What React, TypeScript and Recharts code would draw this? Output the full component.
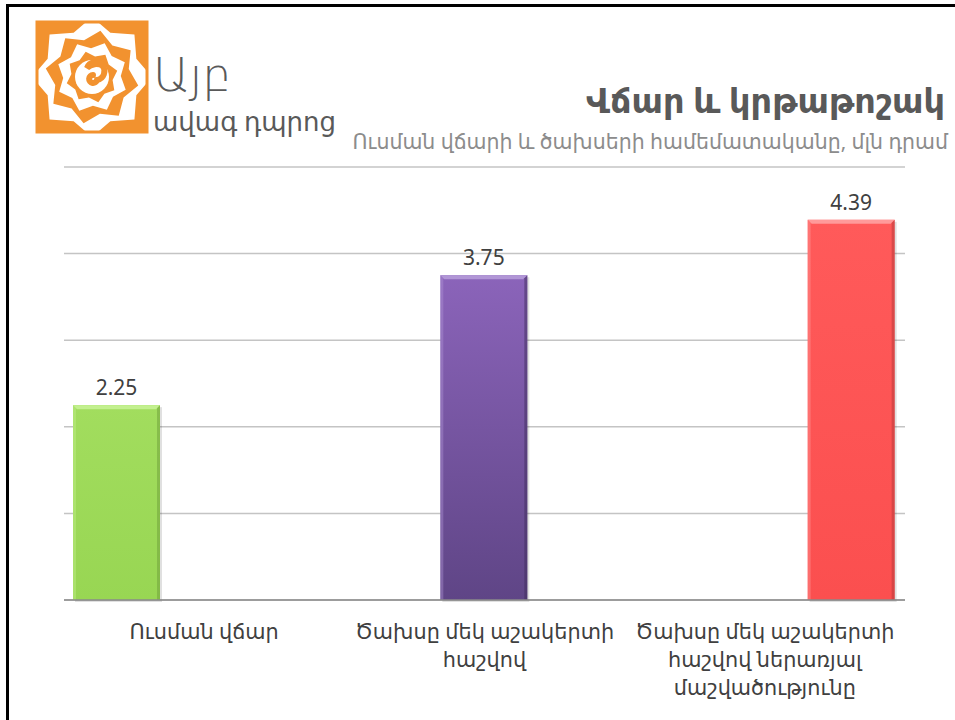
import { BarChart, Bar, XAxis, YAxis, CartesianGrid, LabelList } from 'recharts';

const categoryLines = [
  ['Ուսման վճար'],
  ['Ծախսը մեկ աշակերտի', 'հաշվով'],
  ['Ծախսը մեկ աշակերտի', 'հաշվով ներառյալ', 'մաշվածությունը'],
];
const categories = categoryLines.map((l) => l.join(' '));
const tuition = [2.25, null, null];
const perStudent = [null, 3.75, null];
const perStudentDepr = [null, null, 4.39];
const yTicks = [0, 1, 2, 3, 4, 5];

const data = categories.map((name, i) => ({
  name,
  tuition: tuition[i],
  perStudent: perStudent[i],
  perStudentDepr: perStudentDepr[i],
}));

const FONT = '"Noto Sans", "DejaVu Sans", sans-serif';

function makeBevel(top: string, bottom: string, light: string, dark: string) {
  return (props: any) => {
    const { x, y, width, height } = props;
    if (!height || height <= 0) return <g />;
    const id = 'g' + top.replace('#', '');
    return (
      <g>
        <defs>
          <linearGradient id={id} x1="0" y1="0" x2="0" y2="1">
            <stop offset="0%" stopColor={top} />
            <stop offset="100%" stopColor={bottom} />
          </linearGradient>
        </defs>
        <rect x={x + 2} y={y + 2} width={width} height={height} fill="#000" opacity={0.12} />
        <rect x={x} y={y} width={width} height={height} fill={`url(#${id})`} />
        <polygon points={`${x},${y} ${x + width},${y} ${x + width - 4},${y + 4} ${x + 4},${y + 4}`} fill={light} />
        <polygon points={`${x + width},${y} ${x + width},${y + height} ${x + width - 3},${y + height} ${x + width - 3},${y + 3}`} fill={dark} opacity={0.5} />
        <polygon points={`${x},${y} ${x + 3},${y + 3} ${x + 3},${y + height} ${x},${y + height}`} fill={light} opacity={0.4} />
      </g>
    );
  };
}

const CategoryTick = (props: any) => {
  const { x, y, index } = props;
  const lines = categoryLines[index] || [];
  return (
    <g>
      {lines.map((t, i) => (
        <text key={i} x={x} y={y + 31 + i * 28} textAnchor="middle" fontSize={20.8} fill="#404040" fontFamily={FONT}>
          {t}
        </text>
      ))}
    </g>
  );
};

function starPoints(cx: number, cy: number, r: number, rot: number) {
  const pts: string[] = [];
  const n = 16;
  for (let i = 0; i < n; i++) {
    const rr = i % 2 === 0 ? r : r * 0.8;
    const a = rot + (i * Math.PI * 2) / n;
    pts.push(`${cx + rr * Math.cos(a)},${cy + rr * Math.sin(a)}`);
  }
  return pts.join(' ');
}

const Logo = () => {
  const cx = 92;
  const cy = 77;
  const layers = [60, 47, 36, 26];
  return (
    <svg width={955} height={720} style={{ position: 'absolute', left: 0, top: 0 }}>
      <rect x={37} y={22} width={110} height={110} fill="#f2922f" />
      {layers.map((r, i) => (
        <polygon key={i} points={starPoints(cx, cy, r, i * 0.18)} fill={i % 2 === 0 ? '#fff' : '#f2922f'} />
      ))}
      <circle cx={cx} cy={cy} r={17} fill="#fff" />
      <path
        d={`M ${cx + 1} ${cy - 2} a 4 4 0 1 0 4 5 a 9 9 0 1 0 -10 -12 a 13 13 0 0 1 16 -2`}
        fill="none"
        stroke="#f2922f"
        strokeWidth={6}
        strokeLinecap="round"
      />
      <rect x={37} y={22} width={110} height={110} fill="none" stroke="#f2922f" strokeWidth={3} />
    </svg>
  );
};

const fmt = (v: any) => (v == null ? '' : v);

export default function App() {
  return (
    <div style={{ position: 'absolute', left: 0, top: 0, width: 955, height: 720, background: '#fff', fontFamily: FONT }}>
      <div style={{ position: 'absolute', left: 6, top: 4, width: 960, height: 730, borderLeft: '3px solid #000', borderTop: '3px solid #000' }} />
      <Logo />
      <div style={{ position: 'absolute', left: 153, top: 50, fontSize: 46, color: '#595959', lineHeight: 1, fontWeight: 300 }}>Այբ</div>
      <div style={{ position: 'absolute', left: 153, top: 108, fontSize: 26, color: '#595959', lineHeight: 1 }}>ավագ դպրոց</div>
      <div style={{ position: 'absolute', right: 10, top: 84, fontSize: 33.5, color: '#595959', fontWeight: 700, lineHeight: 1, whiteSpace: 'nowrap' }}>
        Վճար և կրթաթոշակ
      </div>
      <div style={{ position: 'absolute', right: 7, top: 131, fontSize: 20.5, color: '#8c8c8c', lineHeight: 1, whiteSpace: 'nowrap' }}>
        Ուսման վճարի և ծախսերի համեմատականը, մլն դրամ
      </div>
      <div style={{ position: 'absolute', left: 0, top: 0 }}>
        <BarChart
          width={955}
          height={720}
          data={data}
          margin={{ top: 167, right: 50, left: 64, bottom: 0 }}
          barCategoryGap={9}
          barGap={0}
        >
          <CartesianGrid horizontal vertical={false} stroke="#c4c4c4" strokeWidth={1.5} />
          <YAxis hide domain={[0, 5]} ticks={yTicks} />
          <XAxis dataKey="name" height={120} tickLine={false} axisLine={{ stroke: '#8a8a8a', strokeWidth: 1.5 }} tick={<CategoryTick />} interval={0} />
          <Bar dataKey="tuition" isAnimationActive={false} shape={makeBevel('#a2dd5e', '#98d653', '#c3f08f', '#6e9e3a')}>
            <LabelList dataKey="tuition" position="top" offset={10} formatter={fmt} fontSize={21} fill="#404040" fontFamily={FONT} />
          </Bar>
          <Bar dataKey="perStudent" isAnimationActive={false} shape={makeBevel('#8b64ba', '#5f4586', '#b196d6', '#3e2c5a')}>
            <LabelList dataKey="perStudent" position="top" offset={10} formatter={fmt} fontSize={21} fill="#404040" fontFamily={FONT} />
          </Bar>
          <Bar dataKey="perStudentDepr" isAnimationActive={false} shape={makeBevel('#ff5a5a', '#fb4f4f', '#ff9a9a', '#b33a3a')}>
            <LabelList dataKey="perStudentDepr" position="top" offset={10} formatter={fmt} fontSize={21} fill="#404040" fontFamily={FONT} />
          </Bar>
        </BarChart>
      </div>
    </div>
  );
}
